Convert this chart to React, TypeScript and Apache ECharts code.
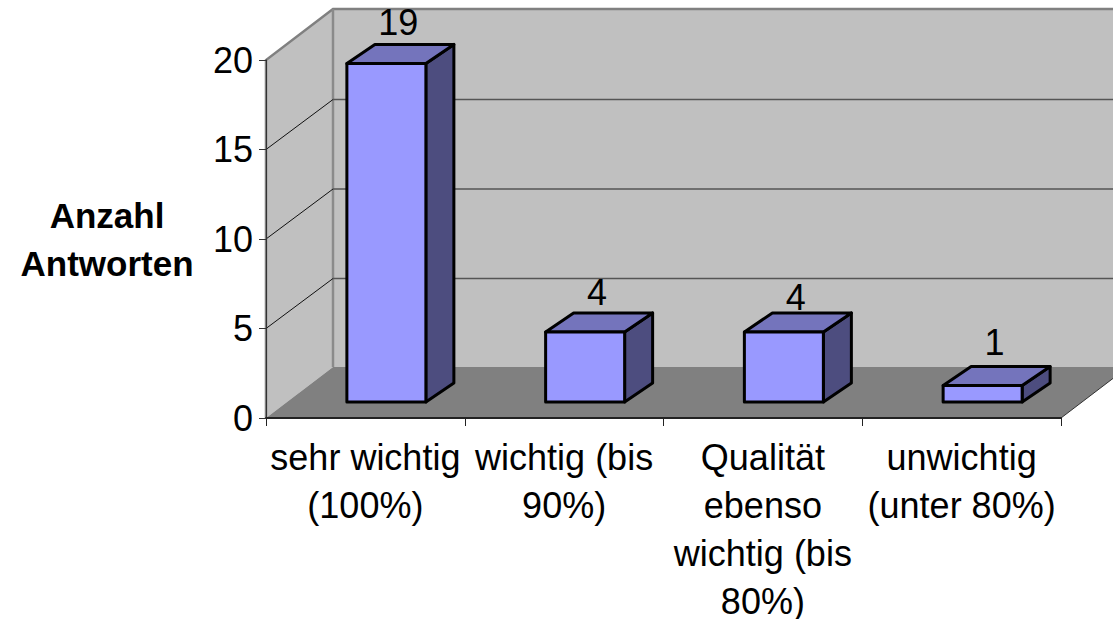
import React, { useEffect, useRef } from "react";
import * as echarts from "echarts";

const categories = [
  "sehr wichtig\n(100%)",
  "wichtig (bis\n90%)",
  "Qualität\nebenso\nwichtig (bis\n80%)",
  "unwichtig\n(unter 80%)",
];
const answers = [19, 4, 4, 1];
const yTicks = [5, 10, 15];
const yAxisTitle = "Anzahl\nAntworten";

const FONT = "'Liberation Sans', Arial, sans-serif";
const WALL_DX = 67;
const WALL_DY = -51;
const GRID_DY = -50;
const BAR_DX = 28;
const BAR_DY = -19;
const BAR_SHIFT = 21;
const BAR_WIDTH = 79;
const BAR_BASE = -16;
const BAR_TOP = -14.5;
const LABEL_NUDGE = [-41, -39, -34, -43];

function renderWalls(params: any, api: any) {
  const cs = params.coordSys;
  const x0 = cs.x;
  const x1 = cs.x + cs.width;
  const yBottom = cs.y + cs.height;
  const yTop = cs.y;
  const bx = x0 + WALL_DX;
  const children: any[] = [
    {
      type: "polygon",
      shape: { points: [[x0, yTop], [bx, yTop + WALL_DY], [x1 + WALL_DX + 40, yTop + WALL_DY], [x1 + WALL_DX + 40, yBottom + WALL_DY], [bx, yBottom + WALL_DY], [x0, yBottom]] },
      style: { fill: "#c0c0c0" },
    },
    {
      type: "polygon",
      shape: { points: [[x0, yBottom], [bx, yBottom + WALL_DY], [x1 + WALL_DX, yBottom + WALL_DY], [x1, yBottom]] },
      style: { fill: "#808080" },
    },
    {
      type: "polyline",
      shape: { points: [[x0, yBottom], [x0, yTop], [bx, yTop + WALL_DY], [x1 + WALL_DX + 40, yTop + WALL_DY]] },
      style: { fill: "none", stroke: "#808080", lineWidth: 2.5 },
    },
    {
      type: "line",
      shape: { x1: bx, y1: yTop + WALL_DY, x2: bx, y2: yBottom + WALL_DY },
      style: { stroke: "#8a8a8a", lineWidth: 2.5 },
    },
    {
      type: "line",
      shape: { x1: x1, y1: yBottom, x2: x1 + WALL_DX, y2: yBottom + WALL_DY },
      style: { stroke: "#333", lineWidth: 1 },
    },
  ];
  yTicks.forEach((t) => {
    const y = api.coord([0, t])[1];
    children.push({
      type: "line",
      shape: { x1: x0, y1: y, x2: bx, y2: y + GRID_DY },
      style: { stroke: "#111", lineWidth: 1 },
    });
    children.push({
      type: "line",
      shape: { x1: bx, y1: y + GRID_DY, x2: x1 + WALL_DX + 40, y2: y + GRID_DY },
      style: { stroke: "#555", lineWidth: 1.5 },
    });
  });
  return { type: "group", children };
}

function renderBar(params: any, api: any) {
  const idx = api.value(0);
  const v = api.value(1);
  const cx = api.coord([idx, 0])[0] + BAR_SHIFT;
  const l = cx - BAR_WIDTH / 2;
  const r = cx + BAR_WIDTH / 2;
  const b = api.coord([idx, 0])[1] + BAR_BASE;
  const t = api.coord([idx, v])[1] + BAR_TOP;
  const stroke = { stroke: "#000", lineWidth: 3, lineJoin: "round" };
  return {
    type: "group",
    children: [
      {
        type: "polygon",
        shape: { points: [[r, t], [r + BAR_DX, t + BAR_DY], [r + BAR_DX, b + BAR_DY], [r, b]] },
        style: { fill: "#4d4d7f", ...stroke },
      },
      {
        type: "polygon",
        shape: { points: [[l, t], [l + BAR_DX, t + BAR_DY], [r + BAR_DX, t + BAR_DY], [r, t]] },
        style: { fill: "#7474bc", ...stroke },
      },
      {
        type: "rect",
        shape: { x: l, y: t, width: BAR_WIDTH, height: b - t },
        style: { fill: "#9999ff", ...stroke },
      },
      {
        type: "text",
        style: {
          x: cx + 12,
          y: t + LABEL_NUDGE[params.dataIndex],
          text: String(v),
          fill: "#000",
          font: `36px ${FONT}`,
          align: "center",
          verticalAlign: "middle",
        },
      },
    ],
  };
}

export default function App() {
  const ref = useRef<HTMLDivElement>(null);
  useEffect(() => {
    const chart = echarts.init(ref.current!, null, { renderer: "svg" });
    chart.setOption({
      animation: false,
      backgroundColor: "#fff",
      grid: { left: 266, right: 52, top: 60, bottom: 201, outerBoundsMode: "none" },
      xAxis: {
        type: "category",
        data: categories,
        z: 10,
        axisLine: { show: true, lineStyle: { color: "#222", width: 2 } },
        axisTick: { show: true, length: 8, lineStyle: { color: "#222", width: 1 } },
        axisLabel: {
          interval: 0,
          margin: 15,
          fontFamily: FONT,
          fontSize: 36,
          lineHeight: 48,
          color: "#000",
          hideOverlap: false,
        },
        splitLine: { show: false },
      },
      yAxis: {
        type: "value",
        min: 0,
        max: 20,
        interval: 5,
        z: 10,
        name: yAxisTitle,
        nameLocation: "middle",
        nameRotate: 0,
        nameGap: 159,
        nameTextStyle: {
          fontFamily: FONT,
          fontSize: 35,
          fontWeight: "bold",
          lineHeight: 48,
          color: "#000",
          align: "center",
          verticalAlign: "middle",
          padding: [0, 0, 4, 0],
        },
        axisLine: { show: true, lineStyle: { color: "#333", width: 1 } },
        axisTick: { show: true, length: 7, lineStyle: { color: "#333", width: 1 } },
        axisLabel: { margin: 13, fontFamily: FONT, fontSize: 36, color: "#000" },
        splitLine: { show: false },
      },
      series: [
        { type: "custom", name: "walls", silent: true, clip: false, z: 1, data: [[0, 0]], encode: { x: 0, y: 1 }, renderItem: renderWalls },
        {
          type: "custom",
          name: "Anzahl Antworten",
          silent: true,
          clip: false,
          z: 2,
          data: answers.map((v, i) => [i, v]),
          encode: { x: 0, y: 1 },
          renderItem: renderBar,
        },
      ],
    });
    return () => chart.dispose();
  }, []);
  return <div ref={ref} style={{ position: "absolute", left: 0, top: 0, width: 1113, height: 619 }} />;
}
